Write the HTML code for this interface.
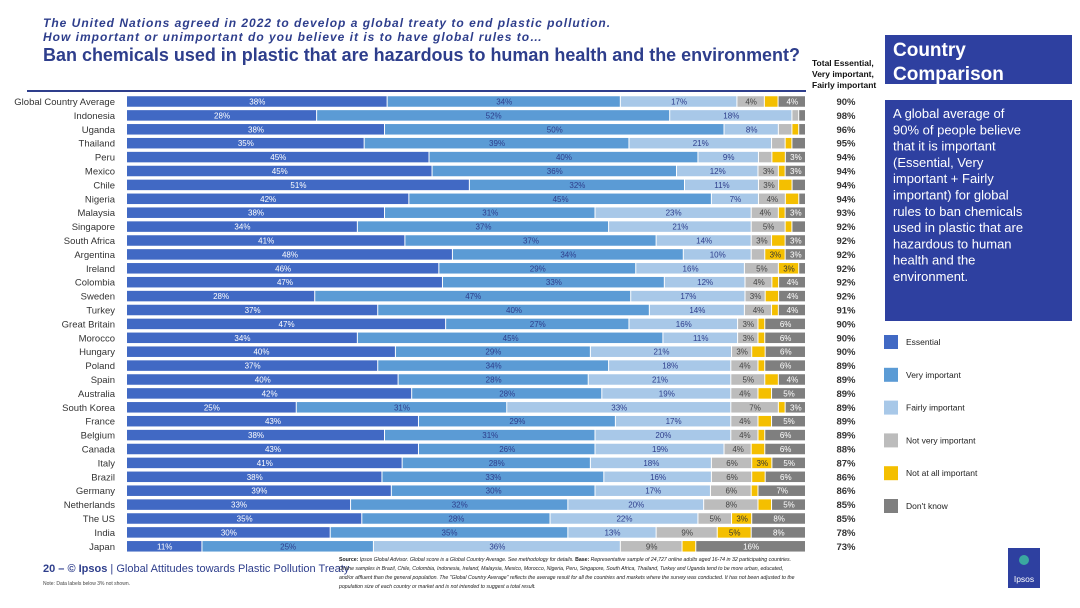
<!DOCTYPE html>
<html><head><meta charset="utf-8">
<style>
body{margin:0;background:#fff;font-family:"Liberation Sans",sans-serif}
#wrap{position:relative;width:1080px;height:608px;overflow:hidden}
svg{position:absolute;left:0;top:0}
</style></head>
<body>
<div id="wrap">
<svg id="chart" width="1080" height="608">
  <text x="43" y="27" font-size="12" font-style="italic" font-weight="bold" fill="#2e3e8c" letter-spacing="1">The United Nations agreed in 2022 to develop a global treaty to end plastic pollution.</text>
  <text x="43" y="41" font-size="12" font-style="italic" font-weight="bold" fill="#2e3e8c" letter-spacing="1">How important or unimportant do you believe it is to have global rules to…</text>
  <text x="43" y="61" font-size="18" font-weight="bold" fill="#2e3e8c" textLength="757" lengthAdjust="spacingAndGlyphs">Ban chemicals used in plastic that are hazardous to human health and the environment?</text>
  <text x="812" y="66" font-size="8.5" font-weight="bold" fill="#111"><tspan x="812">Total Essential,</tspan><tspan x="812" dy="11">Very important,</tspan><tspan x="812" dy="11">Fairly important</tspan></text>
  <line x1="27" y1="91" x2="806" y2="91" stroke="#2e3e8c" stroke-width="2"/>
  <rect x="885" y="35" width="187" height="49" fill="#2e40a0"/>
  <text x="893" y="56" font-size="19" font-weight="bold" fill="#fff"><tspan x="893">Country</tspan><tspan x="893" dy="24">Comparison</tspan></text>
  <rect x="885" y="100" width="187" height="221" fill="#2e40a0"/>
  <text font-size="13" fill="#fff">
    <tspan x="893" y="118">A global average of</tspan><tspan x="893" dy="16.3">90% of people believe</tspan><tspan x="893" dy="16.3">that it is important</tspan><tspan x="893" dy="16.3">(Essential, Very</tspan><tspan x="893" dy="16.3">important + Fairly</tspan><tspan x="893" dy="16.3">important) for global</tspan><tspan x="893" dy="16.3">rules to ban chemicals</tspan><tspan x="893" dy="16.3">used in plastic that are</tspan><tspan x="893" dy="16.3">hazardous to human</tspan><tspan x="893" dy="16.3">health and the</tspan><tspan x="893" dy="16.3">environment.</tspan>
  </text>
  <g id="bars"></g>
  <g id="legend"></g>
  <text x="43" y="572" font-size="11" fill="#2e3e8c"><tspan font-weight="bold">20 – © Ipsos</tspan> | Global Attitudes towards Plastic Pollution Treaty</text>
  <text x="43" y="585" font-size="5" fill="#444">Note: Data labels below 3% not shown.</text>
  <text font-size="5.2" font-style="italic" fill="#222">
    <tspan x="339" y="561"><tspan font-weight="bold" font-style="normal">Source:</tspan> Ipsos Global Advisor. Global score is a Global Country Average. See methodology for details. <tspan font-weight="bold" font-style="normal">Base:</tspan> Representative sample of 24,727 online adults aged 16-74 in 32 participating countries.</tspan>
    <tspan x="339" dy="9">Online samples in Brazil, Chile, Colombia, Indonesia, Ireland, Malaysia, Mexico, Morocco, Nigeria, Peru, Singapore, South Africa, Thailand, Turkey and Uganda tend to be more urban, educated,</tspan>
    <tspan x="339" dy="9">and/or affluent than the general population. The "Global Country Average" reflects the average result for all the countries and markets where the survey was conducted. It has not been adjusted to the</tspan>
    <tspan x="339" dy="9">population size of each country or market and is not intended to suggest a total result.</tspan>
  </text>
  <rect x="1008" y="548" width="32" height="40" fill="#2e40a0"/>
  <circle cx="1024" cy="560" r="5" fill="#3aa8a0"/>
  <text x="1024" y="582" font-size="8.5" fill="#fff" text-anchor="middle">Ipsos</text>
</svg>
</div>
<script>
const countries=["Global Country Average","Indonesia","Uganda","Thailand","Peru","Mexico","Chile","Nigeria","Malaysia","Singapore","South Africa","Argentina","Ireland","Colombia","Sweden","Turkey","Great Britain","Morocco","Hungary","Poland","Spain","Australia","South Korea","France","Belgium","Canada","Italy","Brazil","Germany","Netherlands","The US","India","Japan"];
const essential=[38,28,38,35,45,45,51,42,38,34,41,48,46,47,28,37,47,34,40,37,40,42,25,43,38,43,41,38,39,33,35,30,11];
const veryImportant=[34,52,50,39,40,36,32,45,31,37,37,34,29,33,47,40,27,45,29,34,28,28,31,29,31,26,28,33,30,32,28,35,25];
const fairlyImportant=[17,18,8,21,9,12,11,7,23,21,14,10,16,12,17,14,16,11,21,18,21,19,33,17,20,19,18,16,17,20,22,13,36];
const notVery=[4,1,2,2,2,3,3,4,4,5,3,2,5,4,3,4,3,3,3,4,5,4,7,4,4,4,6,6,6,8,5,9,9];
const notAtAll=[2,0,1,1,2,1,2,2,1,1,2,3,3,1,2,1,1,1,2,1,2,2,1,2,1,2,3,2,1,2,3,5,2];
const dontKnow=[4,1,1,2,3,3,2,1,3,2,3,3,1,4,4,4,6,6,6,6,4,5,3,5,6,6,5,6,7,5,8,8,16];
const totals=[90,98,96,95,94,94,94,94,93,92,92,92,92,92,92,91,90,90,90,89,89,89,89,89,89,88,87,86,86,85,85,78,73];
const seriesNames=["Essential","Very important","Fairly important","Not very important","Not at all important","Don't know"];
const series=[essential,veryImportant,fairlyImportant,notVery,notAtAll,dontKnow];
const colors=["#4169c4","#5b9bd5","#a8c8e8","#bcbcbc","#f4bf00","#7f7f7f"];
const labelColors=["#fff","#2e3e8c","#2e3e8c","#444","#333","#fff"];
const NS="http://www.w3.org/2000/svg";
const X0=127,X1=806,Y0=101.5,STEP=13.9,BH=10.5;
const xScale=(v,sum)=>v/sum*(X1-X0);
const yScale=i=>Y0+i*STEP;
const g=document.getElementById('bars');
function mk(tag,attrs,parent){const e=document.createElementNS(NS,tag);for(const k in attrs)e.setAttribute(k,attrs[k]);parent.appendChild(e);return e;}
countries.forEach((c,i)=>{
  const y=yScale(i);
  const lab=mk('text',{x:115,y:y+3.5,'font-size':9.5,fill:'#333','text-anchor':'end'},g);
  lab.textContent=c;
  
  
  const sum=series.reduce((a,s)=>a+s[i],0);
  let x=X0;
  series.forEach((s,k)=>{
    const w=xScale(s[i],sum);
    if(w>0){
      const r=mk('rect',{x:x,y:y-BH/2,width:Math.max(w-1,0.5),height:BH,fill:colors[k]},g);
      
      
      if(s[i]>=3){
        const t=mk('text',{x:x+w/2,y:y+3,'font-size':8,fill:labelColors[k],'text-anchor':'middle'},g);
        t.textContent=s[i]+'%';
        
        
      }
    }
    x+=w;
  });
  const tt=mk('text',{x:846,y:y+3.5,'font-size':9.5,'font-weight':'bold',fill:'#333','text-anchor':'middle'},g);
  tt.textContent=totals[i]+'%';
  
  
});
const lg=document.getElementById('legend');
seriesNames.forEach((n,k)=>{
  const y=342+k*32.8;
  const r=mk('rect',{x:884,y:y-7,width:14,height:14,fill:colors[k]},lg);
  
  
  const t=mk('text',{x:906,y:y+3,'font-size':8.5,fill:'#222'},lg);
  t.textContent=n;
  
  
});
</script>
</body></html>
